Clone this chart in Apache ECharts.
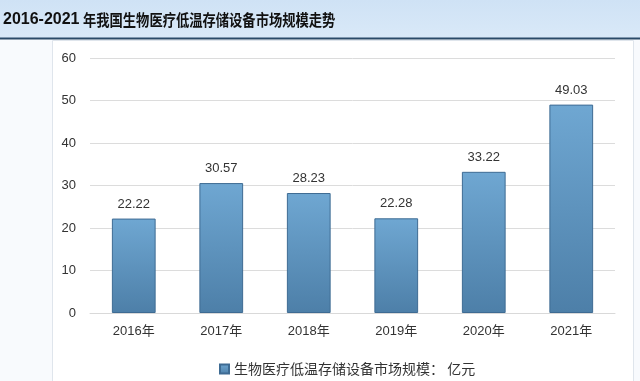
<!DOCTYPE html>
<html>
<head>
<meta charset="utf-8">
<script src="https://cdn.jsdelivr.net/npm/echarts@6/dist/echarts.min.js"></script>
<style>html,body{margin:0;padding:0;background:#f8fafd;}#c{width:640px;height:381px;}</style>
</head>
<body>
<div id="c"></div>
<script>
var categories = ['2016年', '2017年', '2018年', '2019年', '2020年', '2021年'];
var values = [22.22, 30.57, 28.23, 22.28, 33.22, 49.03];
var seriesName = '生物医疗低温存储设备市场规模： 亿元';
var titleYears = '2016-2021';
var titleText = '年我国生物医疗低温存储设备市场规模走势';
var yTicks = { min: 0, max: 60, interval: 10 };

var font = '"Liberation Sans", "Noto Sans CJK SC", sans-serif';
var chart = echarts.init(document.getElementById('c'));
chart.setOption({
  backgroundColor: '#f8fafd',
  animation: false,
  graphic: [
    { type: 'rect', left: 52, top: 40, shape: { width: 581, height: 345 }, style: { fill: '#ffffff', stroke: '#dfe5ec', lineWidth: 1 }, z: -10 },
    { type: 'rect', left: 0, top: 0, shape: { width: 640, height: 38 },
      style: { fill: new echarts.graphic.LinearGradient(0, 0, 0, 1, [{ offset: 0, color: '#cfe2f5' }, { offset: 1, color: '#d9e9f8' }]) }, z: -5 },
    { type: 'rect', left: 0, top: 37.5, shape: { width: 640, height: 2 }, style: { fill: '#2a4a68' }, z: -4 },
    { type: 'text', x: 3, y: 20, z: 10,
      style: { text: titleYears, fontSize: 16, fontWeight: 'bold', fill: '#111', fontFamily: '"Liberation Sans", sans-serif', verticalAlign: 'middle' } },
    { type: 'text', x: 83, y: 20, scaleX: 0.83, z: 10,
      style: { text: titleText, fontSize: 16, fontWeight: 'bold', fill: '#111', fontFamily: '"Noto Sans CJK SC", sans-serif', verticalAlign: 'middle' } }
  ],
  legend: {
    left: 214, top: 357,
    itemWidth: 9, itemHeight: 9, itemGap: 5,
    icon: 'rect',
    textStyle: { fontSize: 14, color: '#333', fontFamily: '"Noto Sans CJK SC", sans-serif' },
    data: [seriesName]
  },
  grid: { left: 90, right: 25, top: 58, bottom: 68 },
  xAxis: {
    type: 'category',
    data: categories,
    axisLine: { show: true, lineStyle: { color: '#d9d9d9' } },
    axisTick: { show: false },
    axisLabel: { color: '#333', fontSize: 13, margin: 12, fontFamily: font }
  },
  yAxis: {
    type: 'value',
    min: yTicks.min, max: yTicks.max, interval: yTicks.interval,
    axisLine: { show: false },
    axisTick: { show: false },
    splitLine: { lineStyle: { color: '#dcdcdc' } },
    axisLabel: { color: '#333', fontSize: 13, margin: 14, fontFamily: font }
  },
  series: [{
    name: seriesName,
    type: 'bar',
    data: values,
    barWidth: '50%',
    itemStyle: {
      color: new echarts.graphic.LinearGradient(0, 0, 0, 1, [
        { offset: 0, color: '#6fa7d2' },
        { offset: 1, color: '#4d7fa8' }
      ]),
      borderColor: '#3e6b93',
      borderWidth: 1
    },
    label: {
      show: true, position: 'top', distance: 8,
      color: '#333', fontSize: 13, fontFamily: font,
      formatter: function (p) { return p.value.toFixed(2); }
    }
  }]
});
</script>
</body>
</html>
